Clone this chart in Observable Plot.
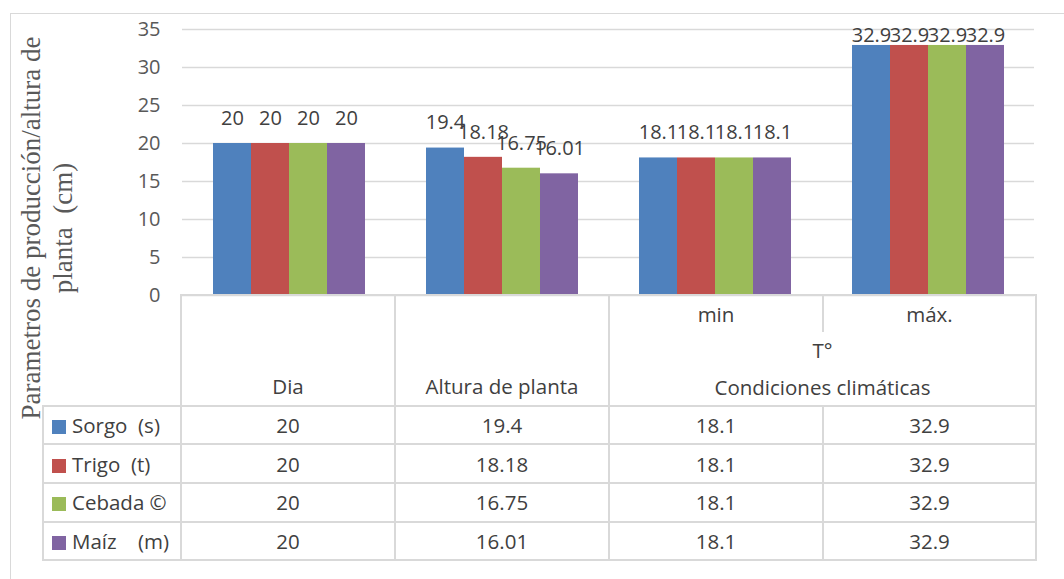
<!DOCTYPE html>
<html>
<head>
<meta charset="utf-8">
<script src="https://cdn.jsdelivr.net/npm/d3@7"></script>
<script src="https://cdn.jsdelivr.net/npm/@observablehq/plot@0.6"></script>
<style>
  html, body { margin: 0; padding: 0; background: #fff; }
  #wrap { position: relative; width: 1064px; height: 579px; overflow: hidden; font-family: "Open Sans", sans-serif; }
  #frame { position: absolute; left: 10px; top: 13px; width: 1200px; height: 800px; border-left: 1.5px solid #d9d9d9; border-top: 1.5px solid #d9d9d9; }
  #chart { position: absolute; left: 0; top: 0; }
  #ytitle { position: absolute; left: 47px; top: 228px; transform: translate(-50%, -50%) rotate(-90deg); white-space: pre; text-align: center;
    font-family: "Liberation Serif", serif; font-size: 27px; line-height: 32px; color: #595959; }
  table#dt { position: absolute; left: 42px; top: 294px; border-collapse: collapse; table-layout: fixed; font-size: 20.5px; color: #404040; }
  #dt td { padding: 0; text-align: center; white-space: pre; border: 2px solid #d9d9d9; }
  #dt tr.h td { height: 36.3px; }
  #dt tr.r td { height: 36.6px; }
  #dt td.blank { border: none; }
  #dt td.bottom { vertical-align: bottom; padding-bottom: 5px; }
  #dt td.nob { border-bottom: none; }
  #dt td.not { border-top: none; }
  #dt td.legend { text-align: left; padding-left: 8px; }
  .sw { display: inline-block; width: 14px; height: 14px; margin-right: 6px; vertical-align: -1px; }
</style>
</head>
<body>
<div id="wrap">
  <div id="frame"></div>
  <div id="chart"></div>
  <div id="ytitle"></div>
  <table id="dt"></table>
</div>
<script>
const categories = ["Dia", "Altura de planta", "min", "máx."];
const series = ["Sorgo  (s)", "Trigo  (t)", "Cebada ©", "Maíz    (m)"];
const sorgo  = [20, 19.4, 18.1, 32.9];
const trigo  = [20, 18.18, 18.1, 32.9];
const cebada = [20, 16.75, 18.1, 32.9];
const maiz   = [20, 16.01, 18.1, 32.9];
const colors = ["#4F81BD", "#C0504D", "#9BBB59", "#8064A2"];
const yTicks = [0, 5, 10, 15, 20, 25, 30, 35];
const groupSub = "T°";
const groupLabel = "Condiciones climáticas";
const yTitle = ["Parametros de producción/altura de", "planta  (cm)"];

const values = [sorgo, trigo, cebada, maiz];
const data = series.flatMap((s, i) => categories.map((c, j) => ({series: s, category: c, value: values[i][j]})));

const chart = Plot.plot({
  width: 1064,
  height: 579,
  marginLeft: 180,
  marginRight: 29,
  marginTop: 29,
  marginBottom: 284,
  style: {fontFamily: "Open Sans", fontSize: "20px", color: "#595959", background: "transparent"},
  fx: {domain: categories, padding: 0, axis: null},
  x: {domain: series, paddingInner: 0, paddingOuter: 0.76, axis: null},
  y: {domain: [0, 35], ticks: yTicks, tickSize: 0, tickPadding: 22, label: null, tickFormat: d => String(d)},
  color: {domain: series, range: colors},
  marks: [
    Plot.ruleY(yTicks, {stroke: "#d9d9d9", strokeWidth: 1.3}),
    Plot.barY(data, {fx: "category", x: "series", y: "value", fill: "series", inset: 0}),
    Plot.text(data.filter(d => d.value < 30), {fx: "category", x: "series", y: "value", text: d => String(d.value), dy: -25, fill: "#404040", fontSize: 20}),
    Plot.text(data.filter(d => d.value >= 30), {fx: "category", x: "series", y: "value", text: d => String(d.value), dy: -10, fill: "#404040", fontSize: 20})
  ]
});
document.getElementById("chart").appendChild(chart);

document.getElementById("ytitle").textContent = yTitle.join("\n");

// data table
const t = document.getElementById("dt");
const cg = document.createElement("colgroup");
[138, 214, 214, 214, 213].forEach(w => { const c = document.createElement("col"); c.style.width = w + "px"; cg.appendChild(c); });
t.appendChild(cg);
const tr1 = document.createElement("tr"); tr1.className = "h";
tr1.innerHTML = `<td class="blank" rowspan="3"></td><td class="bottom" rowspan="3">${categories[0]}</td><td class="bottom" rowspan="3">${categories[1]}</td><td class="nob">${categories[2]}</td><td class="nob">${categories[3]}</td>`;
const tr2 = document.createElement("tr"); tr2.className = "h";
tr2.innerHTML = `<td colspan="2" class="nob not">${groupSub}</td>`;
const tr3 = document.createElement("tr"); tr3.className = "h";
tr3.innerHTML = `<td colspan="2" class="not">${groupLabel}</td>`;
t.appendChild(tr1); t.appendChild(tr2); t.appendChild(tr3);
series.forEach((s, i) => {
  const tr = document.createElement("tr"); tr.className = "r";
  tr.innerHTML = `<td class="legend"><span class="sw" style="background:${colors[i]}"></span>${s}</td>` +
    values[i].map(v => `<td>${String(v)}</td>`).join("");
  t.appendChild(tr);
});
</script>
</body>
</html>
